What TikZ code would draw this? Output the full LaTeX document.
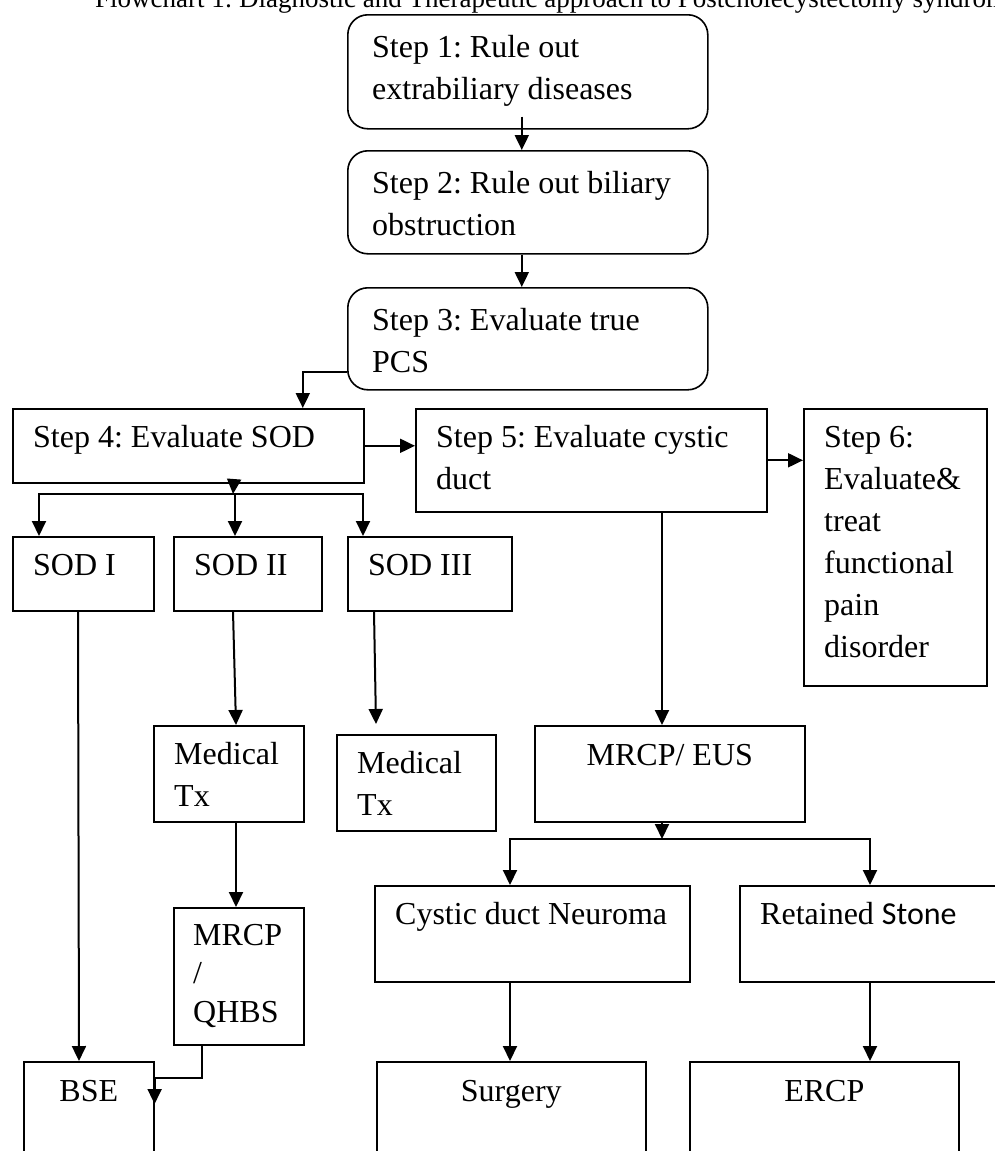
\documentclass[tikz,border=0pt]{standalone}
\usepackage{fontspec}
\setmainfont{Liberation Serif}
\newfontfamily\stonefont{Carlito}
\usetikzlibrary{arrows.meta}
\frenchspacing

\tikzset{
	box/.style={draw, line width=1.6pt, anchor=north west, inner sep=0pt},
	roundbox/.style={box, rounded corners=20pt},
	txt/.style={anchor=north west, inner sep=0pt, align=left,
		font=\fontsize{32}{42}\selectfont, execute at begin node=\strut},
	intxt/.style={txt, xshift=21pt, yshift=-9.6pt},
	steptxt/.style={txt, xshift=25pt, yshift=-14pt},
	txtc/.style={txt, anchor=north, align=center, yshift=-10.6pt},
	arr/.style={line width=2pt, -{Triangle[length=15pt,width=14pt]}}
}

\begin{document}
\begin{tikzpicture}[x=1pt, y=-1pt]

		\useasboundingbox (0,0) rectangle (995,1151);
		\clip (0,0) rectangle (995,1151);

		% title (cut by the page)
		\node[anchor=base west, inner sep=0pt, font=\fontsize{27}{32}\selectfont] (title) at (95,7)
			{Flowchart 1: Diagnostic and Therapeutic approach to Postcholecystectomy syndrome};

		% steps 1-3
		\node[roundbox, minimum width=360pt, minimum height=114pt] (st1) at (347,14) {};
		\node[roundbox, minimum width=360pt, minimum height=103pt] (st2) at (347,150) {};
		\node[roundbox, minimum width=360pt, minimum height=102pt] (st3) at (347,287) {};
		\node[steptxt] (st1txt) at (st1.north west) {\strut Step 1: Rule out\\extrabiliary diseases};
		\node[steptxt] (st2txt) at (st2.north west) {\strut Step 2: Rule out biliary\\obstruction};
		\node[steptxt] (st3txt) at (st3.north west) {\strut Step 3: Evaluate true\\PCS};

		% steps 4-6
		\node[box, minimum width=351pt, minimum height=74pt] (st4) at (12,408) {};
		\node[box, minimum width=351pt, minimum height=103pt] (st5) at (415,408) {};
		\node[box, minimum width=183pt, minimum height=277pt] (st6) at (803,408) {};
		\node[intxt] (st4txt) at (st4.north west) {Step 4: Evaluate SOD};
		\node[intxt] (st5txt) at (st5.north west) {\strut Step 5: Evaluate cystic\\duct};
		\node[intxt] (st6txt) at (st6.north west) {\strut Step 6:\\Evaluate\&\\treat\\functional\\pain\\disorder};

		% SOD branch
		\node[box, minimum width=141pt, minimum height=74pt] (sod1) at (12,536) {};
		\node[box, minimum width=148pt, minimum height=74pt] (sod2) at (173,536) {};
		\node[box, minimum width=164pt, minimum height=74pt] (sod3) at (347,536) {};
		\node[intxt] (sod1txt) at (sod1.north west) {SOD I};
		\node[intxt] (sod2txt) at (sod2.north west) {SOD II};
		\node[intxt] (sod3txt) at (sod3.north west) {SOD III};

		\node[box, minimum width=150pt, minimum height=96pt] (medtx1) at (153,725) {};
		\node[box, minimum width=159pt, minimum height=96pt] (medtx2) at (336,734) {};
		\node[box, minimum width=130pt, minimum height=137pt] (qhbs) at (173,907) {};
		\node[box, minimum width=130pt, minimum height=150pt] (bse) at (23,1061) {};
		\node[intxt] (medtx1txt) at (medtx1.north west) {\strut Medical\\Tx};
		\node[intxt] (medtx2txt) at (medtx2.north west) {\strut Medical\\Tx};
		\node[txt, xshift=20pt, yshift=-11pt, font=\fontsize{32}{38.5}\selectfont] (qhbstxt) at (qhbs.north west) {\strut MRCP\\/\\QHBS};
		\node[txtc] (bsetxt) at (bse.north) {BSE};

		% cystic duct branch
		\node[box, minimum width=270pt, minimum height=96pt] (mrcp) at (534,725) {};
		\node[box, minimum width=315pt, minimum height=96pt] (neuroma) at (374,885) {};
		\node[box, minimum width=271pt, minimum height=96pt] (stone) at (739,885) {};
		\node[box, minimum width=269pt, minimum height=150pt] (surgery) at (376,1061) {};
		\node[box, minimum width=269pt, minimum height=150pt] (ercp) at (689,1061) {};
		\node[txtc] (mrcptxt) at (mrcp.north) {MRCP/ EUS};
		\node[intxt] (neuromatxt) at (neuroma.north west) {Cystic duct Neuroma};
		\node[intxt] (stonetxt) at (stone.north west) {Retained {\stonefont Stone}};
		\node[txtc] (surgerytxt) at (surgery.north) {Surgery};
		\node[txtc] (ercptxt) at (ercp.north) {ERCP};

		%% Arrows %%
		% main line
		\draw[arr] ([xshift=-6pt, yshift=13pt]st1.south) -- ([xshift=-6pt]st2.north);
		\draw[arr] ([xshift=-6pt]st2.south) -- ([xshift=-6pt]st3.north);
		\draw[arr] ([yshift=-33pt]st3.west) -| ([xshift=114.5pt]st4.north);
		\draw[arr] (st4.east) -- (st4.east -| st5.west);
		\draw[arr] (st5.east) -- (st5.east -| st6.west);

		% SOD split
		\coordinate (bus4) at (233,494);
		\draw[arr] ([xshift=45.5pt]st4.south) -- (bus4);
		\draw[arr] (bus4) -| ([xshift=27pt]sod1.north west);
		\draw[arr] (bus4) -| ([xshift=62pt]sod2.north west);
		\draw[arr] (bus4) -| ([xshift=16pt]sod3.north west);
		\draw[arr] ([xshift=66pt]sod1.south west) -- ([xshift=56pt]bse.north west);
		\draw[arr] ([xshift=60pt]sod2.south west) -- ([xshift=83pt]medtx1.north west);
		\draw[arr] ([xshift=27pt]sod3.south west) -- ([xshift=40pt, yshift=10pt]medtx2.north west);
		\draw[arr] ([xshift=83pt]medtx1.south west) -- ([xshift=63pt]qhbs.north west);
		\draw[arr] ([xshift=29pt]qhbs.south west) -- ++(0,32) -| ([yshift=-43pt]bse.north east);

		% cystic duct split
		\coordinate (bus5) at (662,839);
		\draw[arr] ([xshift=247pt]st5.south west) -- ([xshift=128pt]mrcp.north west);
		\draw[arr] ([xshift=128pt]mrcp.south west) -- (bus5);
		\draw[arr] (bus5) -| ([xshift=136pt]neuroma.north west);
		\draw[arr] (bus5) -| ([xshift=131pt]stone.north west);
		\draw[arr] ([xshift=136pt]neuroma.south west) -- ([xshift=134pt]surgery.north west);
		\draw[arr] ([xshift=131pt]stone.south west) -- ([xshift=181pt]ercp.north west);

\end{tikzpicture}
\end{document}
